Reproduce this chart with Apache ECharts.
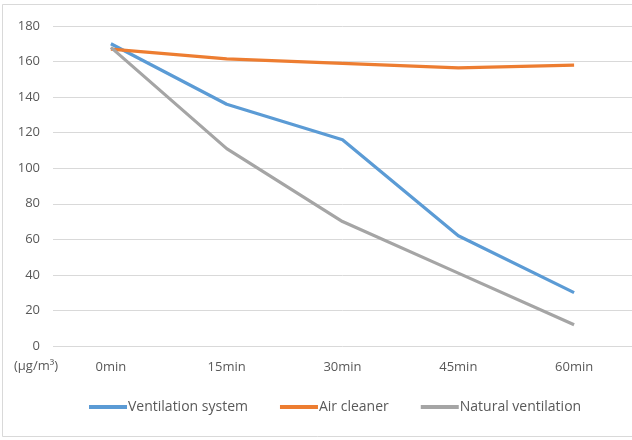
<!DOCTYPE html>
<html><head><meta charset="utf-8">
<script src="https://cdn.jsdelivr.net/npm/echarts@6/dist/echarts.min.js"></script>
<style>html,body{margin:0;padding:0;background:#fff}#c{width:632px;height:440px}</style>
</head><body><div id="c"></div>
<script>
const categories = ['0min','15min','30min','45min','60min'];
const ventilationSystem = [170, 136, 116, 62, 30];
const airCleaner = [167, 161.5, 159, 156.5, 158];
const naturalVentilation = [168, 111, 70, 41, 12];
const yTicks = [0, 20, 40, 60, 80, 100, 120, 140, 160, 180];
const unitLabel = '(μg/m³)';

const chart = echarts.init(document.getElementById('c'), null, {renderer:'canvas'});
const font = 'Open Sans';
function mk(name, data, color){
  return {name, type:'line', data, symbol:'none', smooth:false,
    lineStyle:{width:3.2, color}, itemStyle:{color}, z: 2};
}
chart.setOption({
  animation:false,
  backgroundColor:'#fff',
  graphic:[
    {type:'rect', shape:{x:2.5,y:4.5,width:700,height:432}, style:{fill:'none',stroke:'#d9d9d9',lineWidth:1}, z:-1},
    {type:'text', left:14, top:360, style:{text:unitLabel, fill:'#595959', font:'13px "Open Sans"'}}
  ],
  grid:{left:53, right:-20, top:26, bottom:94, containLabel:false},
  legend:{
    bottom:21, left:84, itemGap:32, itemWidth:38, itemHeight:4, icon:'rect',
    textStyle:{color:'#595959', fontFamily:font, fontSize:14, padding:[0,0,0,-4]},
    data:['Ventilation system','Air cleaner','Natural ventilation']
  },
  xAxis:{type:'category', data:categories, boundaryGap:true,
    axisLine:{show:false}, axisTick:{show:false},
    axisLabel:{color:'#595959', fontFamily:font, fontSize:13, margin:15}},
  yAxis:{type:'value', min:0, max:180, interval:20,
    axisLine:{show:false}, axisTick:{show:false},
    splitLine:{lineStyle:{color:'#d9d9d9', width:1}},
    axisLabel:{color:'#595959', fontFamily:font, fontSize:13, margin:13,
      formatter:v=> yTicks.includes(v)? String(v):''}},
  series:[
    mk('Ventilation system', ventilationSystem, '#5B9BD5'),
    mk('Air cleaner', airCleaner, '#ED7D31'),
    mk('Natural ventilation', naturalVentilation, '#A5A5A5')
  ]
});
</script></body></html>
